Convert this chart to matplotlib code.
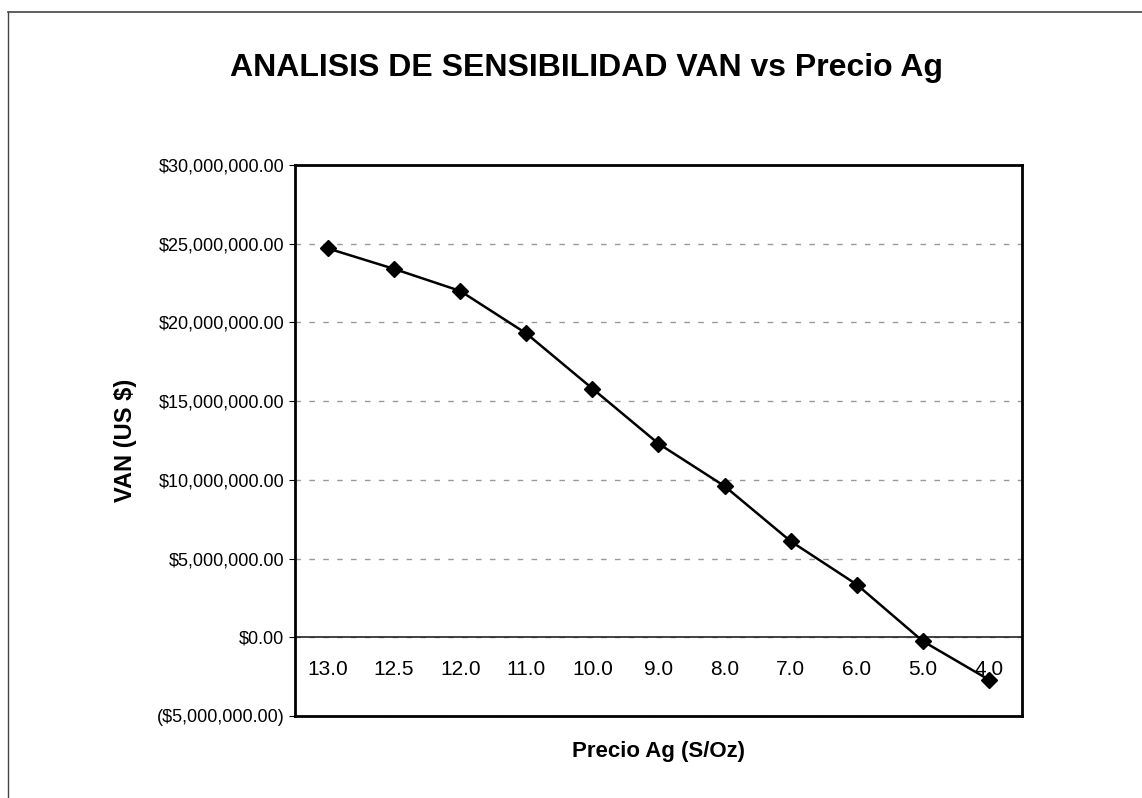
import matplotlib.pyplot as plt
from matplotlib.lines import Line2D
from matplotlib.ticker import FuncFormatter, MultipleLocator

plt.rcParams['font.family'] = ['Liberation Sans', 'DejaVu Sans']

precio = ["13.0", "12.5", "12.0", "11.0", "10.0", "9.0", "8.0", "7.0", "6.0", "5.0", "4.0"]
van = [24.7e6, 23.4e6, 22.0e6, 19.3e6, 15.8e6, 12.3e6, 9.6e6, 6.1e6, 3.35e6, -0.25e6, -2.7e6]


def money(v, pos):
    if v < 0:
        return "(\\${:,.2f})".format(-v)
    return "\\${:,.2f}".format(v)


fig = plt.figure(figsize=(11.42, 7.98), dpi=100)
ax = fig.add_axes([0.2583, 0.1028, 0.6366, 0.6904])

x = range(len(precio))
ax.plot(x, van, color="black", linewidth=1.8, marker="D", markersize=8, zorder=3)

ax.set_xlim(-0.5, len(precio) - 0.5)
ax.set_ylim(-5e6, 30e6)
ax.yaxis.set_major_locator(MultipleLocator(5e6))
ax.yaxis.set_major_formatter(FuncFormatter(money))
ax.set_xticks(list(x))
ax.set_xticklabels(precio)
ax.tick_params(axis="x", length=0, pad=-40, labelsize=15)
ax.tick_params(axis="y", length=4, labelsize=13, direction="out")

ax.grid(axis="y", color="#999999", linestyle=(0, (4, 6)), linewidth=1)
ax.axhline(0, color="#222222", linewidth=1.2, zorder=2)
for s in ax.spines.values():
    s.set_linewidth(2)

ax.set_xlabel("Precio Ag (S/Oz)", fontsize=16, fontweight="bold", labelpad=18)
ax.set_ylabel("VAN (US \\$)", fontsize=17, fontweight="bold", labelpad=14)
fig.text(0.514, 0.915, "ANALISIS DE SENSIBILIDAD VAN vs Precio Ag",
         ha="center", va="center", fontsize=23, fontweight="bold")

# scanned page frame
fig.add_artist(Line2D([0.007, 1.0], [0.985, 0.985], color="#444444", linewidth=1.2))
fig.add_artist(Line2D([0.007, 0.007], [0.0, 0.985], color="#444444", linewidth=1.0))

fig.savefig("out.png", dpi=100)
